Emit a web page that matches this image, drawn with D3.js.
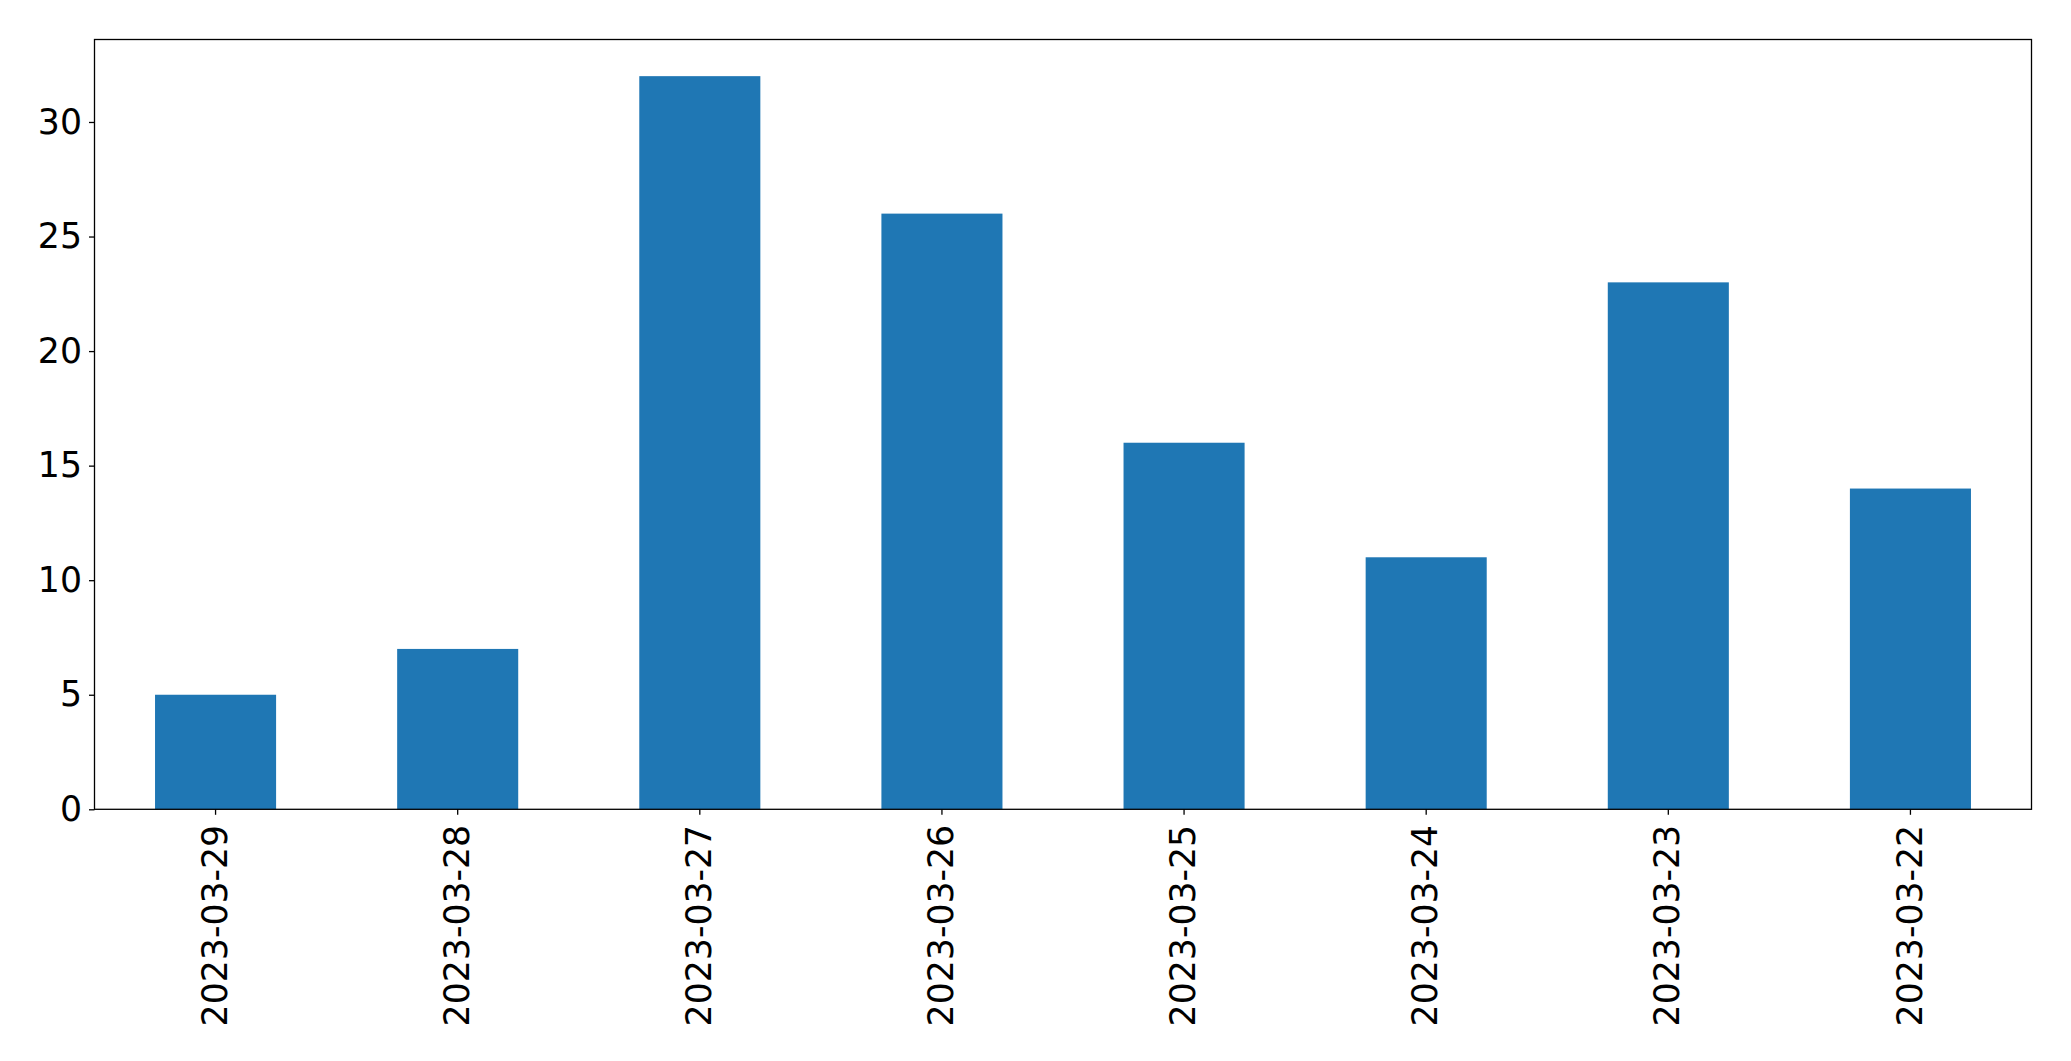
<!DOCTYPE html>
<html>
<head>
<meta charset="utf-8">
<script src="https://cdn.jsdelivr.net/npm/d3@7"></script>
<style>
  html, body { margin: 0; padding: 0; background: #fff; }
  svg { display: block; }
  text { font-family: "DejaVu Sans", sans-serif; fill: #000; }
</style>
</head>
<body>
<svg id="chart" width="2071" height="1061"></svg>
<script>
const categories = ["2023-03-29", "2023-03-28", "2023-03-27", "2023-03-26", "2023-03-25", "2023-03-24", "2023-03-23", "2023-03-22"];
const values = [5, 7, 32, 26, 16, 11, 23, 14];
const yTicks = [0, 5, 10, 15, 20, 25, 30];

const W = 2071, H = 1061;
const margin = { left: 94.5, right: W - 2031.5, top: 39.5, bottom: H - 809.3 };
const svg = d3.select("#chart");
const iw = W - margin.left - margin.right;
const ih = H - margin.top - margin.bottom;

const x = d3.scaleBand().domain(categories).range([0, iw]).paddingInner(0).paddingOuter(0);
const y = d3.scaleLinear().domain([0, d3.max(values) * 1.05]).range([ih, 0]);

const g = svg.append("g").attr("transform", `translate(${margin.left},${margin.top})`);

const bw = x.bandwidth() * 0.5;
g.selectAll("rect.bar").data(values).enter().append("rect")
  .attr("class", "bar")
  .attr("x", (d, i) => x(categories[i]) + (x.bandwidth() - bw) / 2)
  .attr("width", bw)
  .attr("y", d => y(d))
  .attr("height", d => ih - y(d))
  .attr("fill", "#1f77b4");

const fs = 34.7;
const yAxis = g.append("g").call(d3.axisLeft(y).tickValues(yTicks).tickSize(5.5).tickPadding(7).tickFormat(d3.format("d")));
yAxis.select(".domain").remove();
yAxis.selectAll("text").attr("font-size", fs).attr("font-family", "DejaVu Sans");
yAxis.selectAll("line").attr("stroke", "#000").attr("stroke-width", 1.3);

const xAxis = g.append("g").attr("transform", `translate(0,${ih})`)
  .call(d3.axisBottom(x).tickSize(5.5).tickPadding(8));
xAxis.select(".domain").remove();
xAxis.selectAll("line").attr("stroke", "#000").attr("stroke-width", 1.3);
xAxis.selectAll("text")
  .attr("font-size", fs).attr("font-family", "DejaVu Sans")
  .attr("transform", "rotate(-90)")
  .attr("text-anchor", "end")
  .attr("dy", "0.32em")
  .attr("x", -(5.5 + 10))
  .attr("y", 0);

g.append("rect").attr("x", 0).attr("y", 0).attr("width", iw).attr("height", ih)
  .attr("fill", "none").attr("stroke", "#000").attr("stroke-width", 1.3);
</script>
</body>
</html>
